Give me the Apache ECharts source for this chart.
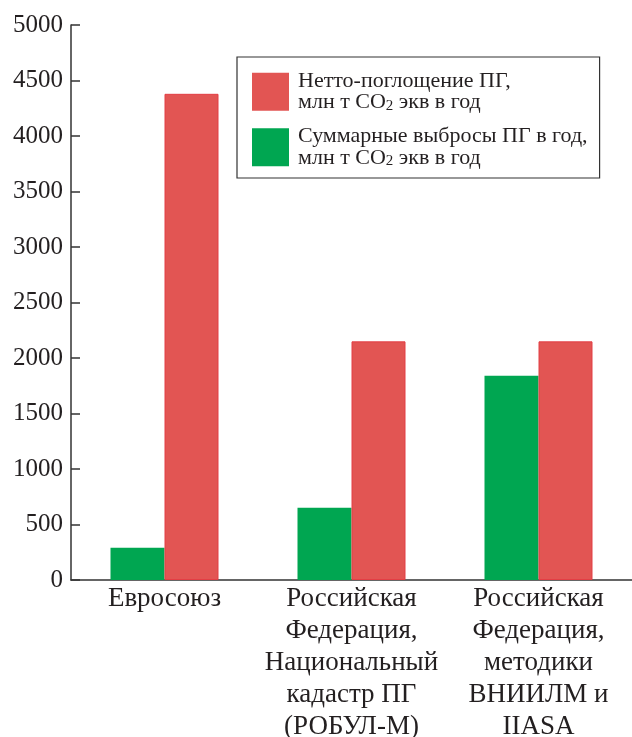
<!DOCTYPE html>
<html>
<head>
<meta charset="utf-8">
<script src="https://cdn.jsdelivr.net/npm/echarts@6/dist/echarts.min.js"></script>
<style>
  html, body { margin: 0; padding: 0; background: #fff; }
  #chart { width: 632px; height: 737px; }
</style>
</head>
<body>
<div id="chart"></div>
<script>
// Categories (regions / estimation methods)
const categories = [
  'Евросоюз',
  'Российская\nФедерация,\nНациональный\nкадастр ПГ\n(РОБУЛ-М)',
  'Российская\nФедерация,\nметодики\nВНИИЛМ и\nIIASA'
];

// Series names
const nameUptake = 'Нетто-поглощение ПГ,\nмлн т CO2 экв в год';
const nameEmission = 'Суммарные выбросы ПГ в год,\nмлн т CO2 экв в год';

// Values, млн т CO2-экв в год
const emissions = [290, 650, 1840];
const netUptake = [4380, 2150, 2150];

// Value axis range
const yMin = 0;
const yMax = 5000;
const yStep = 500;

const FONT = '"Liberation Serif", "Times New Roman", serif';
const TEXT = '#231f20';
const AXIS = '#333333';
const RED = '#e25553';
const GREEN = '#00a651';

const chart = echarts.init(document.getElementById('chart'), null, { renderer: 'canvas' });

chart.setOption({
  animation: false,
  backgroundColor: '#ffffff',
  grid: { left: 71, top: 25, width: 561, bottom: 157, containLabel: false, outerBoundsMode: 'none' },
  legend: {
    orient: 'vertical',
    left: 237,
    top: 57,
    data: [nameUptake, nameEmission],
    icon: 'rect',
    itemWidth: 37,
    itemHeight: 38,
    itemGap: 12,
    padding: [13, 12, 9, 15],
    borderColor: AXIS,
    borderWidth: 1.2,
    itemStyle: { borderWidth: 0 },
    formatter: n => n.replace('CO2', 'CO{sub|2}'),
    textStyle: {
      fontFamily: FONT,
      fontSize: 22,
      lineHeight: 21.5,
      color: TEXT,
      padding: [0, 0, 0, 4],
      rich: {
        sub: { fontFamily: FONT, fontSize: 15, lineHeight: 10, verticalAlign: 'bottom', color: TEXT }
      }
    },
    selectedMode: false
  },
  xAxis: {
    type: 'category',
    data: categories,
    boundaryGap: true,
    axisLine: { lineStyle: { color: AXIS, width: 1.5 } },
    axisTick: { inside: true, length: 10, lineStyle: { color: AXIS, width: 1.5 } },
    axisLabel: {
      interval: 0,
      margin: 3,
      fontFamily: FONT,
      fontSize: 27,
      lineHeight: 32,
      color: TEXT,
      align: 'center'
    },
    splitLine: { show: false }
  },
  yAxis: {
    type: 'value',
    min: yMin,
    max: yMax,
    interval: yStep,
    axisLine: { show: true, lineStyle: { color: AXIS, width: 1.5 } },
    axisTick: { show: true, inside: true, length: 9, lineStyle: { color: AXIS, width: 1.5 } },
    axisLabel: {
      margin: 8,
      fontFamily: FONT,
      fontSize: 25,
      color: TEXT,
      formatter: v => String(v)
    },
    splitLine: { show: false }
  },
  series: [
    {
      name: nameEmission,
      type: 'bar',
      data: emissions,
      barWidth: 54,
      barGap: '0%',
      itemStyle: { color: GREEN }
    },
    {
      name: nameUptake,
      type: 'bar',
      data: netUptake,
      barWidth: 54,
      barGap: '0%',
      itemStyle: { color: RED, borderColor: '#e33e44', borderWidth: 1 }
    }
  ]
});
</script>
</body>
</html>
